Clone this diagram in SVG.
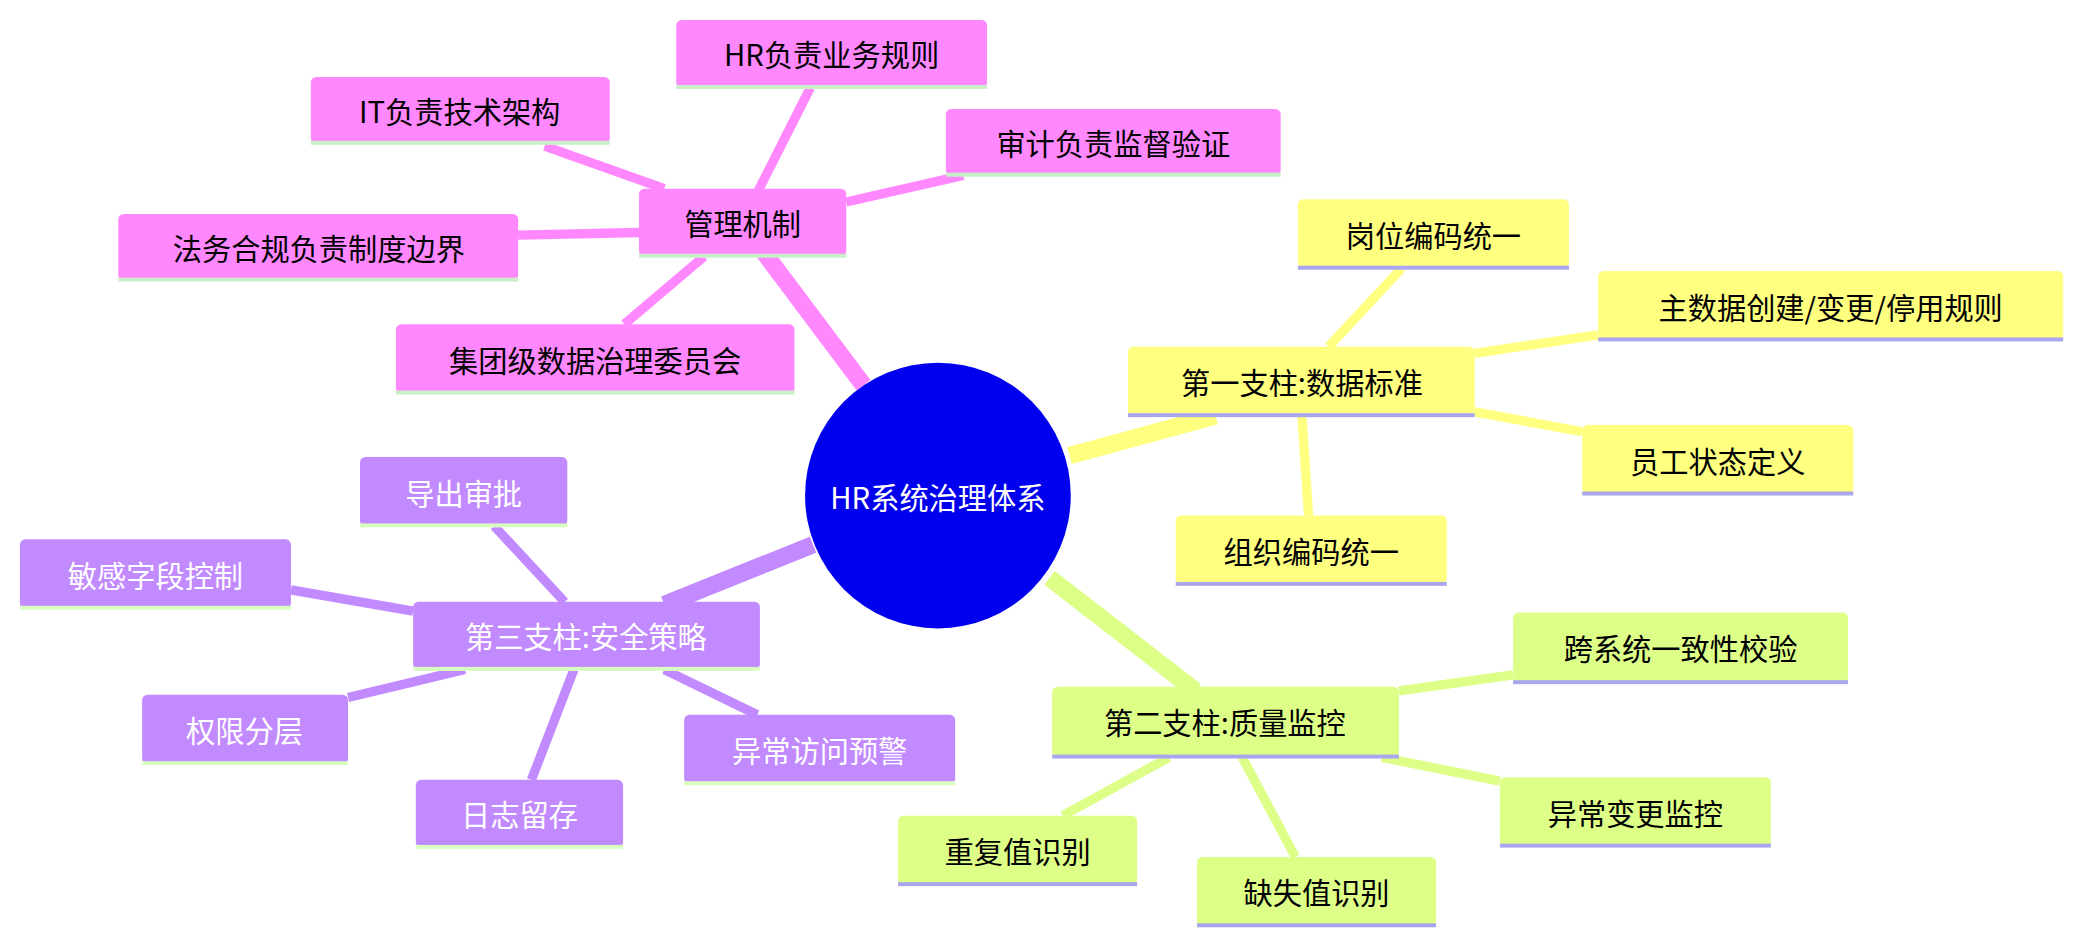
<svg xmlns="http://www.w3.org/2000/svg" width="2083" height="945" viewBox="0 0 2083 945">
<style>
text{font-family:"Noto Sans CJK SC","Noto Sans",sans-serif;font-size:22px;text-anchor:middle;dominant-baseline:central}
.pk{fill:#ff88ff}.yl{fill:#ffff80}.gr{fill:#ddff88}.pu{fill:#c28aff}
.wt{fill:#fff}
</style>
<rect width="2083" height="945" fill="#fff"/>
<g transform="scale(1.3285)">
<g id="connectors" fill="none" stroke-linecap="butt">
<g stroke="#ff88ff"><path d="M650,290 L575,190" stroke-width="13"/><path d="M570,145L610,66M500,142L410,110M637,152L725,132M481,175L390,177M530,193L470,244" stroke-width="7"/></g>
<g stroke="#ffff80"><path d="M805,343 L915,313" stroke-width="13"/><path d="M1000,261L1055,202M1110,266L1203,252M1110,310L1191,325M980,313L985,388" stroke-width="7"/></g>
<g stroke="#ddff88"><path d="M790,435 L900,520" stroke-width="13"/><path d="M1053,520L1139,508M1040,570L1129,588M935,570L975,645M880,570L800,614" stroke-width="7"/></g>
<g stroke="#c28aff"><path d="M612,410 L500,455" stroke-width="13"/><path d="M425,453L372,396M311,460L219,444M350,504L262,525M432,504L400,587M500,504L570,538" stroke-width="7"/></g>
</g>
<g id="center"><circle cx="706" cy="373" r="100" fill="#0000ee"/><text x="706" y="373" class="wt">HR系统治理体系</text></g>
<g id="n-mgmt"><rect x="481" y="142" width="156" height="51" rx="4" class="pk"/><rect x="481" y="191" width="156" height="3" fill="#c8f0c8"/><text x="559" y="167">管理机制</text></g>
<g id="n-hr"><rect x="509" y="15" width="234" height="51" rx="4" class="pk"/><rect x="509" y="64" width="234" height="3" fill="#c8f0c8"/><text x="626" y="40">HR负责业务规则</text></g>
<g id="n-it"><rect x="234" y="58" width="225" height="50" rx="4" class="pk"/><rect x="234" y="106" width="225" height="3" fill="#c8f0c8"/><text x="346" y="83">IT负责技术架构</text></g>
<g id="n-audit"><rect x="712" y="82" width="252" height="50" rx="4" class="pk"/><rect x="712" y="130" width="252" height="3" fill="#c8f0c8"/><text x="838" y="107">审计负责监督验证</text></g>
<g id="n-legal"><rect x="89" y="161" width="301" height="50" rx="4" class="pk"/><rect x="89" y="209" width="301" height="3" fill="#c8f0c8"/><text x="240" y="186">法务合规负责制度边界</text></g>
<g id="n-committee"><rect x="298" y="244" width="300" height="52" rx="4" class="pk"/><rect x="298" y="294" width="300" height="3" fill="#c8f0c8"/><text x="448" y="270">集团级数据治理委员会</text></g>

<g id="n-p1"><rect x="849" y="261" width="261" height="52" rx="4" class="yl"/><rect x="849" y="311" width="261" height="3" fill="#aaa6ee"/><text x="980" y="287">第一支柱:数据标准</text></g>
<g id="n-post"><rect x="977" y="150" width="204" height="52" rx="4" class="yl"/><rect x="977" y="200" width="204" height="3" fill="#aaa6ee"/><text x="1079" y="176">岗位编码统一</text></g>
<g id="n-master"><rect x="1203" y="204" width="350" height="52" rx="4" class="yl"/><rect x="1203" y="254" width="350" height="3" fill="#aaa6ee"/><text x="1378" y="230">主数据创建/变更/停用规则</text></g>
<g id="n-status"><rect x="1191" y="320" width="204" height="52" rx="4" class="yl"/><rect x="1191" y="370" width="204" height="3" fill="#aaa6ee"/><text x="1293" y="346">员工状态定义</text></g>
<g id="n-org"><rect x="885" y="388" width="204" height="52" rx="4" class="yl"/><rect x="885" y="438" width="204" height="3" fill="#aaa6ee"/><text x="987" y="414">组织编码统一</text></g>

<g id="n-p2"><rect x="792" y="517" width="261" height="53" rx="4" class="gr"/><rect x="792" y="568" width="261" height="3" fill="#aaa6ee"/><text x="922" y="543">第二支柱:质量监控</text></g>
<g id="n-cross"><rect x="1139" y="461" width="252" height="53" rx="4" class="gr"/><rect x="1139" y="512" width="252" height="3" fill="#aaa6ee"/><text x="1265" y="487">跨系统一致性校验</text></g>
<g id="n-change"><rect x="1129" y="585" width="204" height="52" rx="4" class="gr"/><rect x="1129" y="635" width="204" height="3" fill="#aaa6ee"/><text x="1231" y="611">异常变更监控</text></g>
<g id="n-missing"><rect x="901" y="645" width="180" height="52" rx="4" class="gr"/><rect x="901" y="695" width="180" height="3" fill="#aaa6ee"/><text x="991" y="671">缺失值识别</text></g>
<g id="n-dup"><rect x="676" y="614" width="180" height="52" rx="4" class="gr"/><rect x="676" y="664" width="180" height="3" fill="#aaa6ee"/><text x="766" y="640">重复值识别</text></g>

<g id="n-p3"><rect x="311" y="453" width="261" height="51" rx="4" class="pu"/><rect x="311" y="502" width="261" height="3" fill="#d9ffc0"/><text x="441" y="478" class="wt">第三支柱:安全策略</text></g>
<g id="n-export"><rect x="271" y="344" width="156" height="52" rx="4" class="pu"/><rect x="271" y="394" width="156" height="3" fill="#d9ffc0"/><text x="349" y="370" class="wt">导出审批</text></g>
<g id="n-sensitive"><rect x="15" y="406" width="204" height="52" rx="4" class="pu"/><rect x="15" y="456" width="204" height="3" fill="#d9ffc0"/><text x="117" y="432" class="wt">敏感字段控制</text></g>
<g id="n-perm"><rect x="107" y="523" width="155" height="52" rx="4" class="pu"/><rect x="107" y="573" width="155" height="3" fill="#d9ffc0"/><text x="184" y="549" class="wt">权限分层</text></g>
<g id="n-log"><rect x="313" y="587" width="156" height="51" rx="4" class="pu"/><rect x="313" y="636" width="156" height="3" fill="#d9ffc0"/><text x="391" y="612" class="wt">日志留存</text></g>
<g id="n-alert"><rect x="515" y="538" width="204" height="52" rx="4" class="pu"/><rect x="515" y="588" width="204" height="3" fill="#d9ffc0"/><text x="617" y="564" class="wt">异常访问预警</text></g>
</g>
</svg>
